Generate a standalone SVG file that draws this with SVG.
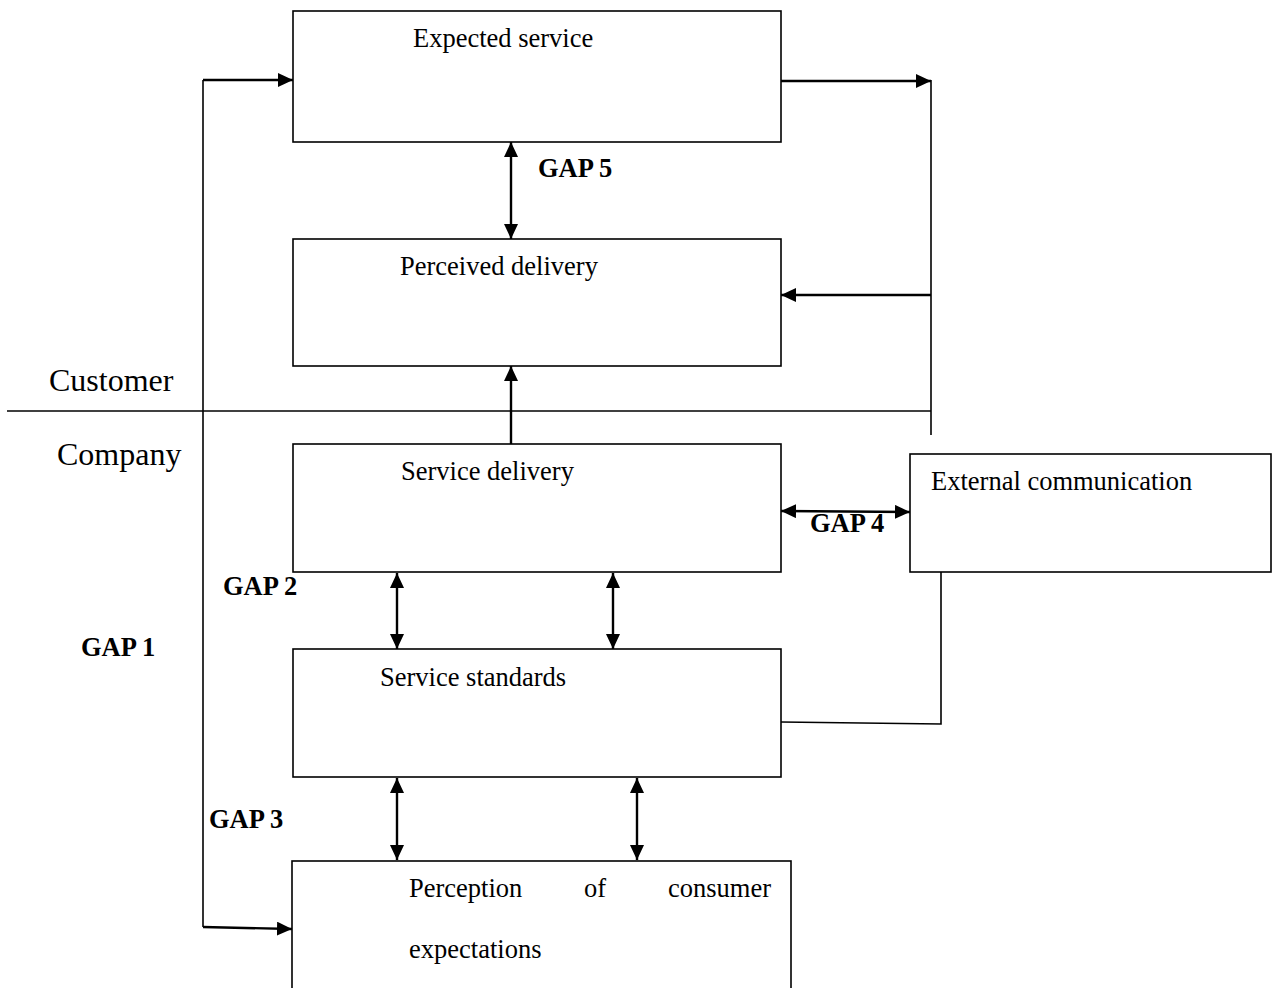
<svg xmlns="http://www.w3.org/2000/svg" width="1274" height="988" viewBox="0 0 1274 988">
<style>
.box{fill:#fff;stroke:#000;stroke-width:1.6}
.t{font-family:"Liberation Serif","Times New Roman",serif;font-size:26.5px;fill:#000}
.side{font-family:"Liberation Serif","Times New Roman",serif;font-size:32px;fill:#000}
.gap{font-family:"Liberation Serif","Times New Roman",serif;font-size:26.5px;font-weight:bold;fill:#000}
.ln{fill:none;stroke:#000;stroke-width:1.6}
.ar{fill:none;stroke:#000;stroke-width:2.4}
</style>
<defs>
<marker id="ah" markerUnits="userSpaceOnUse" markerWidth="16" markerHeight="15" refX="15" refY="7" orient="auto-start-reverse" viewBox="0 0 16 15">
<path d="M0,0 L15,7 L0,14 z" fill="#000"/>
</marker>
</defs>
<rect width="1274" height="988" fill="#fff"/>
<g id="connectors">
<line class="ln" x1="7" y1="411" x2="931" y2="411"/>
<polyline class="ln" points="203,927 203,80"/>
<line class="ar" x1="203" y1="80" x2="293" y2="80" marker-end="url(#ah)"/>
<line class="ar" x1="203" y1="927" x2="292" y2="929" marker-end="url(#ah)"/>
<line class="ln" x1="931" y1="80" x2="931" y2="435"/>
<line class="ar" x1="781" y1="81" x2="931" y2="81" marker-end="url(#ah)"/>
<line class="ar" x1="931" y1="295" x2="781" y2="295" marker-end="url(#ah)"/>
<line class="ar" x1="511" y1="142" x2="511" y2="239" marker-start="url(#ah)" marker-end="url(#ah)"/>
<line class="ar" x1="511" y1="444" x2="511" y2="366" marker-end="url(#ah)"/>
<line class="ar" x1="781" y1="511" x2="910" y2="512" marker-start="url(#ah)" marker-end="url(#ah)"/>
<line class="ar" x1="397" y1="573" x2="397" y2="649" marker-start="url(#ah)" marker-end="url(#ah)"/>
<line class="ar" x1="613" y1="573" x2="613" y2="649" marker-start="url(#ah)" marker-end="url(#ah)"/>
<line class="ar" x1="397" y1="778" x2="397" y2="860" marker-start="url(#ah)" marker-end="url(#ah)"/>
<line class="ar" x1="637" y1="778" x2="637" y2="860" marker-start="url(#ah)" marker-end="url(#ah)"/>
<polyline class="ln" points="941,572 941,724 781,722"/>
</g>
<g id="expected-service">
<rect class="box" x="293" y="11" width="488" height="131"/>
<text class="t" x="413" y="47">Expected service</text>
</g>
<g id="perceived-delivery">
<rect class="box" x="293" y="239" width="488" height="127"/>
<text class="t" x="400" y="275">Perceived delivery</text>
</g>
<g id="service-delivery">
<rect class="box" x="293" y="444" width="488" height="128"/>
<text class="t" x="401" y="480">Service delivery</text>
</g>
<g id="service-standards">
<rect class="box" x="293" y="649" width="488" height="128"/>
<text class="t" x="380" y="686">Service standards</text>
</g>
<g id="perception">
<rect class="box" x="292" y="861" width="499" height="140"/>
<text class="t" y="897"><tspan x="409">Perception</tspan><tspan x="584">of</tspan><tspan x="668">consumer</tspan></text>
<text class="t" x="409" y="958">expectations</text>
</g>
<g id="external-communication">
<rect class="box" x="910" y="454" width="361" height="118"/>
<text class="t" x="931" y="490">External communication</text>
</g>
<g id="labels">
<text class="side" x="49" y="391">Customer</text>
<text class="side" x="57" y="465">Company</text>
<text class="gap" x="538" y="177">GAP 5</text>
<text class="gap" x="810" y="532">GAP 4</text>
<text class="gap" x="223" y="595">GAP 2</text>
<text class="gap" x="81" y="656">GAP 1</text>
<text class="gap" x="209" y="828">GAP 3</text>
</g>
</svg>
